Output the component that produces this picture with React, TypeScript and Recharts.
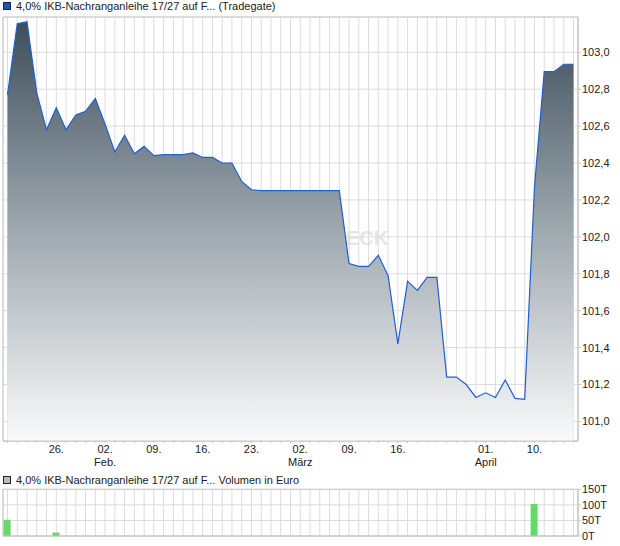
import React from "react"
import { ComposedChart, Area, Bar, XAxis, YAxis, CartesianGrid, ReferenceArea } from "recharts"

// daily closing prices, one per trading day (left to right)
const prices = [
  102.77, 103.155, 103.165, 102.78, 102.58, 102.7, 102.58, 102.66, 102.68, 102.75,
  102.61, 102.46, 102.55, 102.45, 102.49, 102.44, 102.445, 102.445, 102.445, 102.455,
  102.43, 102.43, 102.4, 102.4, 102.3, 102.255, 102.25, 102.25, 102.25, 102.25,
  102.25, 102.25, 102.25, 102.25, 102.25, 101.855, 101.84, 101.84, 101.9, 101.79,
  101.42, 101.76, 101.71, 101.78, 101.78, 101.24, 101.24, 101.2, 101.13, 101.155,
  101.13, 101.225, 101.125, 101.12, 102.27, 102.895, 102.895, 102.935, 102.935,
]

// traded volume in thousand euro (null = no trade)
const volumes: (number | null)[] = prices.map(() => null)
volumes[0] = 52
volumes[5] = 11
volumes[54] = 103

// labelled ticks on the date axis
const tickIndex = [5, 10, 15, 20, 25, 30, 35, 40, 49, 54]
const tickDay = ["26.", "02.", "09.", "16.", "23.", "02.", "09.", "16.", "01.", "10."]
const tickMonth = ["", "Feb.", "", "", "", "März", "", "", "April", ""]

const priceTicks = [101.0, 101.2, 101.4, 101.6, 101.8, 102.0, 102.2, 102.4, 102.6, 102.8, 103.0]
const volumeTicks = [0, 50, 100, 150]

const data = prices.map((p, i) => ({ i, price: p, vol: volumes[i] }))
const allTicks = data.map((d) => d.i)

const X_DOMAIN: [number, number] = [-0.46, prices.length - 1 + 0.46]
const PRICE_DOMAIN: [number, number] = [100.894, 103.191]
const VOL_DOMAIN: [number, number] = [0, 150]

const FONT = "'Liberation Sans', Arial, Helvetica, sans-serif"
const GRID = "#dcdcdc"
const FRAME = "#c8c8c8"
const TEXT = "#222"

function DateTick(props: any) {
  const { x, y, payload } = props
  const k = tickIndex.indexOf(payload.value)
  if (k < 0) return <g />
  return (
    <g>
      <text x={x} y={y} dy={8} textAnchor="middle" fontSize={11} fill={TEXT}>
        {tickDay[k]}
      </text>
      {tickMonth[k] && (
        <text x={x} y={y} dy={21} textAnchor="middle" fontSize={11} fill={TEXT}>
          {tickMonth[k]}
        </text>
      )}
    </g>
  )
}

function NoTick() {
  return <g />
}

function Title({ top, color, text }: { top: number; color: string; text: string }) {
  return (
    <div style={{ position: "absolute", left: 3, top, height: 12, display: "flex", alignItems: "center", fontSize: 11, color: TEXT, whiteSpace: "nowrap" }}>
      <span style={{ display: "inline-block", width: 6, height: 6, background: color, border: "1px solid #223", marginRight: 5 }} />
      {text}
    </div>
  )
}

export default function App() {
  return (
    <div style={{ position: "absolute", left: 0, top: 0, width: 620, height: 546, background: "#fff", fontFamily: FONT, overflow: "hidden" }}>
      <Title top={0} color="#1a56c0" text="4,0% IKB-Nachranganleihe 17/27 auf F... (Tradegate)" />
      <div style={{ position: "absolute", left: 346, top: 227, fontSize: 20, fontWeight: "bold", color: "#e9e5e1", letterSpacing: 0 }}>
        ECK
      </div>
      <div style={{ position: "absolute", left: 0, top: 0 }}>
        <ComposedChart width={620} height={470} data={data} margin={{ top: 17, right: 0, bottom: 0, left: 3 }}>
          <defs>
            <linearGradient id="priceFill" x1="0" y1="17" x2="0" y2="441" gradientUnits="userSpaceOnUse">
              <stop offset="0%" stopColor="#3b4c59" />
              <stop offset="50%" stopColor="#9ea8af" />
              <stop offset="100%" stopColor="#fafafb" />
            </linearGradient>
          </defs>
          <CartesianGrid stroke={GRID} />
          <XAxis
            type="number"
            dataKey="i"
            domain={X_DOMAIN}
            ticks={allTicks}
            interval={0}
            tick={<DateTick />}
            tickSize={2}
            tickMargin={2}
            tickLine={{ stroke: FRAME }}
            axisLine={{ stroke: FRAME }}
            height={29}
          />
          <YAxis
            orientation="right"
            domain={PRICE_DOMAIN}
            ticks={priceTicks}
            interval={0}
            tickFormatter={(v: number) => v.toFixed(1).replace(".", ",")}
            tick={{ fontSize: 11, fill: TEXT }}
            tickSize={3}
            tickMargin={1}
            tickLine={{ stroke: FRAME }}
            axisLine={{ stroke: FRAME }}
            width={42}
          />
          <ReferenceArea x1={X_DOMAIN[0]} x2={X_DOMAIN[1]} y1={PRICE_DOMAIN[0]} y2={PRICE_DOMAIN[1]} fill="none" stroke={FRAME} />
          <Area
            type="linear"
            dataKey="price"
            stroke="#1f5fcf"
            strokeWidth={1.2}
            fill="url(#priceFill)"
            fillOpacity={1}
            dot={false}
            activeDot={false}
            isAnimationActive={false}
          />
        </ComposedChart>
      </div>

      <Title top={474} color="#bdbdbd" text="4,0% IKB-Nachranganleihe 17/27 auf F... Volumen in Euro" />
      <div style={{ position: "absolute", left: 0, top: 480 }}>
        <ComposedChart width={620} height={66} data={data} margin={{ top: 9.3, right: 0, bottom: 0, left: 3 }}>
          <CartesianGrid stroke={GRID} />
          <XAxis
            type="number"
            dataKey="i"
            domain={X_DOMAIN}
            ticks={allTicks}
            interval={0}
            tick={<NoTick />}
            tickLine={false}
            axisLine={{ stroke: FRAME }}
            height={10}
          />
          <YAxis
            orientation="right"
            domain={VOL_DOMAIN}
            ticks={volumeTicks}
            interval={0}
            tickFormatter={(v: number) => `${v}T`}
            tick={{ fontSize: 11, fill: TEXT }}
            tickSize={3}
            tickMargin={1}
            tickLine={{ stroke: FRAME }}
            axisLine={{ stroke: FRAME }}
            width={42}
          />
          <ReferenceArea x1={X_DOMAIN[0]} x2={X_DOMAIN[1]} y1={VOL_DOMAIN[0]} y2={VOL_DOMAIN[1]} fill="none" stroke={FRAME} />
          <Bar dataKey="vol" fill="#66d966" barSize={7} isAnimationActive={false} />
        </ComposedChart>
      </div>
    </div>
  )
}
